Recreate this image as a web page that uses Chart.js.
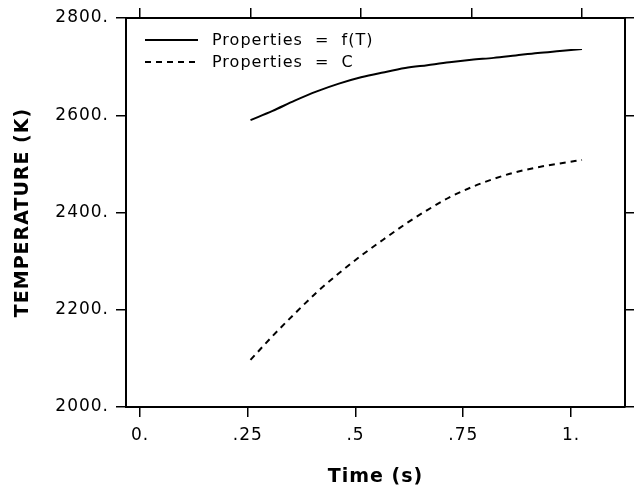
<!DOCTYPE html>
<html>
<head>
<meta charset="utf-8">
<script src="https://cdn.jsdelivr.net/npm/chart.js@4.4.0/dist/chart.umd.min.js"></script>
<style>
  html, body { margin: 0; padding: 0; background: #fff; }
</style>
</head>
<body>
<canvas id="temp-chart" width="634" height="488"></canvas>
<script>
// values
var timeS = [0.25, 0.30, 0.35, 0.40, 0.45, 0.50, 0.55, 0.60, 0.65, 0.70, 0.75, 0.80, 0.85, 0.90, 0.95, 1.00];
var tempVariable = [2590, 2609, 2630, 2649, 2665, 2678, 2688, 2697, 2703, 2709, 2714, 2718, 2723, 2728, 2732, 2736];
var tempConstant = [2097, 2146, 2192, 2236, 2275, 2311, 2344, 2376, 2405, 2431, 2452, 2469, 2483, 2493, 2501, 2508];
var seriesNames = ['Properties  =  f(T)', 'Properties  =  C'];
var xTicks = [0, 0.25, 0.5, 0.75, 1];
var xTickLabels = ['0.', '.25', '.5', '.75', '1.'];
var yTicks = [2000, 2200, 2400, 2600, 2800];

var FONT = '"DejaVu Sans", sans-serif';

function points(xs, ys) {
  return xs.map(function(x, i) { return { x: x, y: ys[i] }; });
}

// the old plotter font is spaced out a bit
var spacingPlugin = {
  id: 'spacing',
  beforeDraw: function(chart) { chart.ctx.letterSpacing = '1px'; }
};

// legend sits inside the plot, top left
var insideLegend = {
  id: 'insideLegend',
  afterDraw: function(chart) {
    var ctx = chart.ctx, area = chart.chartArea;
    ctx.save();
    ctx.letterSpacing = '1px';
    ctx.font = '16px ' + FONT;
    ctx.fillStyle = '#000';
    ctx.textBaseline = 'middle';
    chart.data.datasets.forEach(function(ds, i) {
      var y = area.top + 22 + i * 22;
      ctx.beginPath();
      ctx.setLineDash(ds.borderDash || []);
      ctx.lineWidth = ds.borderWidth;
      ctx.strokeStyle = ds.borderColor;
      ctx.moveTo(area.left + 19, y);
      ctx.lineTo(area.left + 72, y);
      ctx.stroke();
      ctx.fillText(ds.label, area.left + 86, y + 1);
    });
    ctx.restore();
  }
};

function fixTicks(values) {
  return function(scale) {
    scale.ticks = values.map(function(v) { return { value: v }; });
  };
}

var gridOpts = { drawOnChartArea: false, drawTicks: true, tickLength: 10, color: '#000', lineWidth: 1.5 };
var borderOpts = { color: '#000', width: 2 };

(function() {
  var ctx = document.getElementById('temp-chart');
  new Chart(ctx, {
    type: 'line',
    data: {
      datasets: [
        {
          label: seriesNames[0],
          data: points(timeS, tempVariable),
          borderColor: '#000',
          borderWidth: 2,
          pointRadius: 0,
          cubicInterpolationMode: 'monotone',
          xAxisID: 'xTop'
        },
        {
          label: seriesNames[1],
          data: points(timeS, tempConstant),
          borderColor: '#000',
          borderWidth: 2,
          borderDash: [6, 5],
          pointRadius: 0,
          cubicInterpolationMode: 'monotone',
          xAxisID: 'xTop'
        }
      ]
    },
    options: {
      responsive: false,
      animation: false,
      devicePixelRatio: 1,
      layout: { padding: 0 },
      plugins: { legend: { display: false }, tooltip: { enabled: false } },
      scales: {
        x: {
          type: 'linear',
          position: 'bottom',
          min: -0.0325,
          max: 1.1253,
          afterBuildTicks: fixTicks(xTicks),
          afterFit: function(s) { s.height = 81; },
          ticks: {
            autoSkip: false,
            maxRotation: 0,
            padding: 8,
            color: '#000',
            font: { family: FONT, size: 17 },
            callback: function(v) { return xTickLabels[xTicks.indexOf(v)]; }
          },
          grid: gridOpts,
          border: borderOpts,
          title: {
            display: true,
            text: 'Time (s)',
            color: '#000',
            font: { family: FONT, size: 19, weight: 'bold' },
            padding: { top: 0, bottom: 0 }
          }
        },
        xTop: {
          type: 'linear',
          position: 'top',
          min: -0.0317,
          max: 1.0973,
          afterBuildTicks: fixTicks(xTicks),
          afterFit: function(s) { s.height = 18; },
          ticks: { display: false },
          grid: gridOpts,
          border: borderOpts
        },
        y: {
          type: 'linear',
          position: 'left',
          min: 2000,
          max: 2800,
          afterBuildTicks: fixTicks(yTicks),
          afterFit: function(s) { s.width = 126; },
          ticks: {
            padding: 7,
            color: '#000',
            font: { family: FONT, size: 17 },
            callback: function(v) { return v + '.'; }
          },
          grid: gridOpts,
          border: borderOpts,
          title: {
            display: true,
            text: 'TEMPERATURE (K)',
            color: '#000',
            font: { family: FONT, size: 19, weight: 'bold' },
            padding: { top: 12, bottom: 0 }
          }
        },
        yRight: {
          type: 'linear',
          position: 'right',
          min: 2000,
          max: 2800,
          afterBuildTicks: fixTicks(yTicks),
          afterFit: function(s) { s.width = 9; },
          ticks: { display: false },
          grid: gridOpts,
          border: borderOpts
        }
      }
    },
    plugins: [spacingPlugin, insideLegend]
  });
})();
</script>
</body>
</html>
